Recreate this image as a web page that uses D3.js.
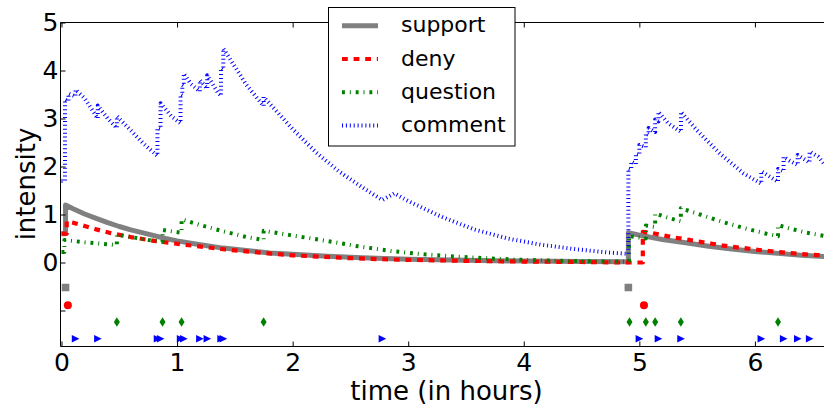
<!DOCTYPE html>
<html>
<head>
<meta charset="utf-8">
<script src="https://cdn.jsdelivr.net/npm/d3@7"></script>
<style>
  body { margin: 0; background: #fff; }
  svg { display: block; }
  text { font-family: "DejaVu Sans", sans-serif; fill: #000; }
</style>
</head>
<body>
<div class="canvas"></div>
<script>
// intensity curves: [time in hours, intensity]
const supportCurve = [
  [0, 0.6], [0.035, 0.6], [0.035, 1.2], [0.1, 1.12], [0.2, 1.01], [0.3, 0.92], [0.4, 0.83],
  [0.5, 0.75], [0.6, 0.68], [0.75, 0.59], [0.9, 0.5], [1.0, 0.45], [1.2, 0.37], [1.4, 0.3],
  [1.6, 0.25], [1.8, 0.2], [2.0, 0.17], [2.3, 0.13], [2.6, 0.1], [3.0, 0.07], [3.5, 0.045],
  [4.0, 0.03], [4.5, 0.02], [4.905, 0.015], [4.905, 0.62], [5.0, 0.57], [5.2, 0.48],
  [5.4, 0.41], [5.6, 0.34], [5.8, 0.28], [6.0, 0.23], [6.2, 0.19], [6.4, 0.15], [6.68, 0.115]
];
const denyCurve = [
  [0, 0.6], [0.045, 0.6], [0.045, 0.86], [0.1, 0.83], [0.2, 0.76], [0.3, 0.69], [0.43, 0.61],
  [0.6, 0.53], [0.8, 0.45], [0.93, 0.41], [1.1, 0.36], [1.25, 0.32], [1.42, 0.27], [1.6, 0.23],
  [1.75, 0.2], [2.0, 0.15], [2.25, 0.12], [2.5, 0.09], [2.75, 0.07], [3.0, 0.055], [3.5, 0.035],
  [4.0, 0.02], [4.5, 0.01], [4.92, 0.0], [5.03, 0.0], [5.03, 0.64], [5.1, 0.62], [5.24, 0.55],
  [5.33, 0.51], [5.43, 0.47], [5.53, 0.43], [5.63, 0.39], [5.73, 0.35], [5.83, 0.32],
  [5.94, 0.29], [6.04, 0.26], [6.14, 0.235], [6.24, 0.21], [6.34, 0.19], [6.44, 0.17],
  [6.54, 0.155], [6.68, 0.14]
];
const questionCurve = [
  [0, 0.22], [0.025, 0.22], [0.025, 0.47], [0.1, 0.45], [0.2, 0.42], [0.3, 0.4], [0.479, 0.36],
  [0.479, 0.58], [0.6, 0.53], [0.75, 0.47], [0.874, 0.43], [0.874, 0.68], [0.95, 0.65],
  [1.039, 0.62], [1.039, 0.9], [1.2, 0.78], [1.4, 0.65], [1.6, 0.53], [1.749, 0.47],
  [1.749, 0.66], [1.8, 0.64], [1.98, 0.57], [2.27, 0.46], [2.56, 0.34], [2.85, 0.24],
  [3.14, 0.17], [3.43, 0.12], [3.7, 0.085], [4.0, 0.055], [4.3, 0.035], [4.6, 0.025],
  [4.91, 0.02], [4.91, 0.55], [5.0, 0.52], [5.056, 0.5], [5.056, 0.77], [5.137, 0.74],
  [5.137, 1.02], [5.25, 0.93], [5.359, 0.86], [5.359, 1.13], [5.5, 1.02], [5.7, 0.86],
  [5.9, 0.72], [6.1, 0.6], [6.2, 0.55], [6.2, 0.78], [6.3, 0.71], [6.45, 0.62], [6.68, 0.52]
];
const commentCurve = [
  [0, 1.7], [0.03, 1.7], [0.03, 3.4], [0.06, 3.36], [0.06, 3.52], [0.121, 3.46], [0.121, 3.6],
  [0.2, 3.42], [0.3, 3.05], [0.314, 3.0], [0.314, 3.27], [0.4, 3.0], [0.479, 2.8],
  [0.479, 3.05], [0.6, 2.75], [0.7, 2.5], [0.83, 2.22], [0.83, 2.8], [0.857, 2.78],
  [0.857, 3.32], [0.95, 3.05], [1.03, 2.9], [1.03, 3.5], [1.045, 3.48], [1.045, 3.7],
  [1.058, 3.68], [1.058, 3.94], [1.12, 3.72], [1.197, 3.56], [1.197, 3.8], [1.261, 3.62],
  [1.261, 3.9], [1.35, 3.55], [1.38, 3.47], [1.38, 4.05], [1.40, 4.02], [1.40, 4.46],
  [1.5, 4.08], [1.6, 3.7], [1.749, 3.26], [1.749, 3.45], [1.85, 3.18], [2.0, 2.78],
  [2.2, 2.3], [2.4, 1.9], [2.6, 1.57], [2.776, 1.3], [2.88, 1.44], [3.0, 1.28], [3.28, 0.96],
  [3.57, 0.69], [3.86, 0.5], [4.15, 0.37], [4.44, 0.28], [4.72, 0.21], [4.905, 0.18],
  [4.905, 1.96], [4.93, 1.94], [4.93, 2.1], [4.97, 2.05], [4.97, 2.27], [5.0, 2.24],
  [5.0, 2.45], [5.056, 2.4], [5.056, 2.69], [5.08, 2.66], [5.08, 2.8], [5.137, 2.72],
  [5.137, 2.98], [5.165, 2.94], [5.165, 3.14], [5.25, 2.9], [5.36, 2.72], [5.36, 3.14],
  [5.5, 2.75], [5.7, 2.26], [5.9, 1.86], [6.055, 1.64], [6.055, 1.9], [6.2, 1.68],
  [6.2, 1.95], [6.248, 1.9], [6.248, 2.2], [6.3, 2.12], [6.37, 2.03], [6.37, 2.24],
  [6.473, 2.08], [6.473, 2.31], [6.55, 2.2], [6.6, 2.05], [6.68, 1.99]
];

// event times (hours) shown as markers under the curves
const supportEvents = [0.035, 4.905];
const denyEvents = [0.055, 5.04];
const questionEvents = [0.479, 0.874, 1.039, 1.749, 4.915, 5.056, 5.137, 5.359, 6.2];
const commentEvents = [0.121, 0.314, 0.83, 0.857, 1.03, 1.058, 1.197, 1.261, 1.38, 1.40,
  2.776, 5.0, 5.165, 5.36, 6.055, 6.248, 6.37, 6.473];
const eventLevels = [-0.52, -0.89, -1.24, -1.59];

const seriesNames = ['support', 'deny', 'question', 'comment'];
const xTicks = [0, 1, 2, 3, 4, 5, 6];
const yTicks = [-1, 0, 1, 2, 3, 4, 5];
const yTickLabels = ['', '0', '1', '2', '3', '4', '5'];

const W = 824, H = 407;
const pLeft = 60.5, pRight = 833.5, pTop = 22.5, pBottom = 346.5;

const svg = d3.select('.canvas')
  .append('svg')
  .attr('width', W)
  .attr('height', H);

const x = d3.scaleLinear().domain([-0.0087, 6.68]).range([pLeft, pRight]);
const y = d3.scaleLinear().domain([-1.75, 5]).range([pBottom, pTop]);

svg.append('clipPath').attr('id', 'plotclip')
  .append('rect')
  .attr('x', pLeft).attr('y', pTop)
  .attr('width', pRight - pLeft).attr('height', pBottom - pTop);

const plot = svg.append('g').attr('clip-path', 'url(#plotclip)');

const line = d3.line().x(d => x(d[0])).y(d => y(d[1]));

// one style per series: colour, width, dashes
const styles = {
  support: { color: '#808080', width: 5, dash: null },
  deny: { color: '#ff0000', width: 4.2, dash: '5.8,5.8' },
  question: { color: '#008000', width: 4, dash: '2.9,4.9,1,4.9' },
  comment: { color: '#0000ff', width: 4, dash: '1,2.9' }
};
const curves = [supportCurve, denyCurve, questionCurve, commentCurve];

curves.forEach((c, i) => {
  const s = styles[seriesNames[i]];
  plot.append('path')
    .datum(c)
    .attr('d', line)
    .attr('fill', 'none')
    .attr('stroke', s.color)
    .attr('stroke-width', s.width)
    .attr('stroke-dasharray', s.dash)
    .attr('stroke-linejoin', 'round');
});

// event markers
const shapes = [
  'M-3.8,-3.8H3.8V3.8H-3.8Z',
  'M4,0A4,4 0 1 1 -4,0A4,4 0 1 1 4,0Z',
  'M0,-4.8L3,0L0,4.8L-3,0Z',
  'M-3.7,-3.8L3.9,0L-3.7,3.8Z'
];
const allEvents = [supportEvents, denyEvents, questionEvents, commentEvents];
allEvents.forEach((ev, i) => {
  plot.selectAll(null)
    .data(ev)
    .enter()
    .append('path')
    .attr('transform', d => `translate(${x(d)},${y(eventLevels[i])})`)
    .attr('d', shapes[i])
    .attr('fill', styles[seriesNames[i]].color);
});

// axes, ticks point inwards
const xAxis = svg.append('g')
  .attr('transform', `translate(0,${pBottom})`)
  .call(d3.axisBottom(x).tickValues(xTicks).tickSize(-5).tickPadding(7).tickFormat(d3.format('d')));
const xTop = svg.append('g')
  .attr('transform', `translate(0,${pTop})`)
  .call(d3.axisTop(x).tickValues(xTicks).tickSize(-5).tickFormat(''));
const yAxis = svg.append('g')
  .attr('transform', `translate(${pLeft},0)`)
  .call(d3.axisLeft(y).tickValues(yTicks).tickSize(-5).tickPadding(2)
    .tickFormat((d, i) => yTickLabels[i]));

[xAxis, xTop, yAxis].forEach(a => {
  a.select('.domain').remove();
  a.selectAll('.tick line').attr('stroke', '#000');
  a.selectAll('text').style('font-size', '25px').attr('font-family', null);
});

// spines (right one is past the picture edge)
svg.append('path')
  .attr('d', `M${pLeft},${pBottom}V${pTop}H${pRight}V${pBottom}Z`)
  .attr('fill', 'none')
  .attr('stroke', '#000')
  .attr('stroke-width', 1);

svg.append('text')
  .attr('x', 446.5)
  .attr('y', 400)
  .attr('text-anchor', 'middle')
  .style('font-size', '26px')
  .text('time (in hours)');

svg.append('text')
  .attr('transform', 'translate(35,184) rotate(-90)')
  .attr('text-anchor', 'middle')
  .style('font-size', '26px')
  .text('intensity');

// legend
const legend = svg.append('g');
legend.append('rect')
  .attr('x', 328.5).attr('y', 7.5)
  .attr('width', 186.5).attr('height', 138.5)
  .attr('fill', '#fff')
  .attr('stroke', '#000')
  .attr('stroke-width', 1);

seriesNames.forEach((name, i) => {
  const s = styles[name];
  const ly = 25.8 + i * 33.2;
  legend.append('line')
    .attr('x1', 342).attr('x2', 378)
    .attr('y1', ly).attr('y2', ly)
    .attr('stroke', s.color)
    .attr('stroke-width', s.width)
    .attr('stroke-dasharray', s.dash);
  legend.append('text')
    .attr('x', 401)
    .attr('y', ly + 6.5)
    .style('font-size', '22px')
    .text(name);
});
</script>
</body>
</html>
